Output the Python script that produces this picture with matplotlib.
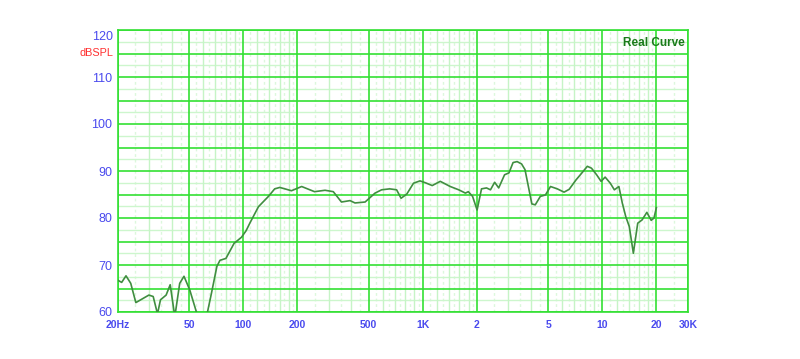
import matplotlib
matplotlib.use("Agg")
import matplotlib.pyplot as plt

plt.rcParams['font.family'] = ['Liberation Sans', 'DejaVu Sans']

freq_hz = [20, 21.1, 22.3, 23.7, 25.3, 29.9, 31.6, 33.4, 34.7, 37.3, 39.3, 41.7, 44.4,
           46.9, 50.5, 55.5, 59, 63, 66.7, 71.5, 74.4, 80.3, 89.1, 98, 104, 109.4,
           121.8, 138.5, 150, 160, 171, 186, 212, 250, 286, 318, 353, 394, 420, 478,
           543, 591, 655, 716, 758, 816, 889, 966, 1035, 1130, 1253, 1424, 1587,
           1730, 1795, 1896, 2009, 2126, 2266, 2385, 2516, 2650, 2857, 3023, 3186,
           3356, 3553, 3712, 3877, 4053, 4234, 4519, 4824, 5148, 5616, 6125, 6540,
           7138, 7625, 8254, 8704, 9297, 9843, 10370, 11080, 11670, 12370, 12920,
           13510, 14130, 14890, 15750, 16660, 17700, 18720, 19400, 20000]
spl_db = [66.8, 66.3, 67.7, 66.1, 62.0, 63.6, 63.3, 59.6, 62.6, 63.6, 65.8, 59.0, 66.1,
          67.6, 64.7, 59.5, 57.5, 59.5, 64.0, 69.7, 71.0, 71.4, 74.6, 75.9, 77.3, 79.0,
          82.4, 84.6, 86.2, 86.5, 86.2, 85.8, 86.7, 85.6, 85.9, 85.6, 83.4, 83.7, 83.2, 83.4,
          85.3, 86.0, 86.2, 86.0, 84.2, 85.1, 87.4, 87.9, 87.5, 86.9, 87.8, 86.7, 86.0,
          85.3, 85.6, 84.6, 81.7, 86.2, 86.4, 86.0, 87.6, 86.4, 89.2, 89.6, 91.8,
          92.0, 91.5, 90.3, 86.7, 83.0, 82.8, 84.6, 84.9, 86.7, 86.2, 85.5, 86.1,
          88.1, 89.4, 91.0, 90.6, 89.2, 87.8, 88.7, 87.4, 86.0, 86.7, 83.2,
          80.3, 78.2, 72.5, 78.9, 79.6, 81.2, 79.5, 80.0, 82.2]

x_major = [20, 50, 100, 200, 500, 1000, 2000, 5000, 10000, 20000, 30000]
x_labels = ['20Hz', '50', '100', '200', '500', '1K', '2', '5', '10', '20', '30K']
x_minor_solid = [30, 40, 60, 70, 80, 90, 120, 140, 160, 180, 300, 400, 600, 700, 800, 900,
                 1200, 1400, 1600, 1800, 3000, 4000, 6000, 7000, 8000, 9000,
                 12000, 14000, 16000, 18000]
x_minor_dash = [25, 35, 45, 55, 65, 75, 85, 95, 110, 130, 150, 170, 190, 250, 350, 450,
                550, 650, 750, 850, 950, 1100, 1300, 1500, 1700, 1900, 2500, 3500, 4500,
                5500, 6500, 7500, 8500, 9500, 11000, 13000, 15000, 17000, 19000, 25000]
y_major = [60, 65, 70, 75, 80, 85, 90, 95, 100, 105, 110, 115, 120]
y_label_vals = [60, 70, 80, 90, 100, 110]
y_top_label = 120
y_minor = [62.5, 67.5, 72.5, 77.5, 82.5, 87.5, 92.5, 97.5, 102.5, 107.5, 112.5, 117.5]

fig = plt.figure(figsize=(8.0, 3.59), dpi=100)
ax = fig.add_axes([117.5 / 800, 47 / 359, 570.5 / 800, 282 / 359])
ax.set_xscale('log')
ax.set_xlim(20, 30000)
ax.set_ylim(60, 120)

for v in x_minor_dash:
    ax.axvline(v, color='#dcf8dc', lw=1.0, ls=(0, (2, 2)), zorder=1)
for v in y_minor:
    ax.axhline(v, color='#cdf6cd', lw=1.0, zorder=1)
for v in x_minor_solid:
    ax.axvline(v, color='#c6f4c6', lw=1.0, zorder=1)
for v in x_major:
    ax.axvline(v, color='#33e033', lw=1.2, zorder=2)
for v in y_major:
    ax.axhline(v, color='#33e033', lw=1.2, zorder=2)

ax.plot(freq_hz, spl_db, color='#408e40', lw=1.2, zorder=3, clip_on=True)

for s in ax.spines.values():
    s.set_color('#33e033')
    s.set_linewidth(1.2)

ax.minorticks_off()
ax.set_xticks(x_major)
ax.set_xticklabels(x_labels)
ax.set_yticks(y_label_vals)
ax.set_yticklabels([str(v) for v in y_label_vals])
ax.tick_params(axis='both', length=0)
ax.tick_params(axis='x', pad=6, labelsize=7.5, labelcolor='#4a4aee')
ax.tick_params(axis='y', pad=4, labelsize=9, labelcolor='#4a4aee')
for lab in ax.get_xticklabels():
    lab.set_fontweight('bold')

ax.text(-0.007, y_top_label - 1.5, str(y_top_label), transform=ax.get_yaxis_transform(),
        ha='right', va='center', color='#4a4aee', fontsize=9)
ax.text(-0.007, 115, 'dBSPL', transform=ax.get_yaxis_transform(), ha='right', va='center',
        color='#ff3030', fontsize=7.8)
ax.text(0.995, 0.975, 'Real Curve', transform=ax.transAxes, ha='right', va='top',
        color='#1a7a1a', fontsize=8.5, fontweight='bold')

fig.savefig('out.png', dpi=100)
